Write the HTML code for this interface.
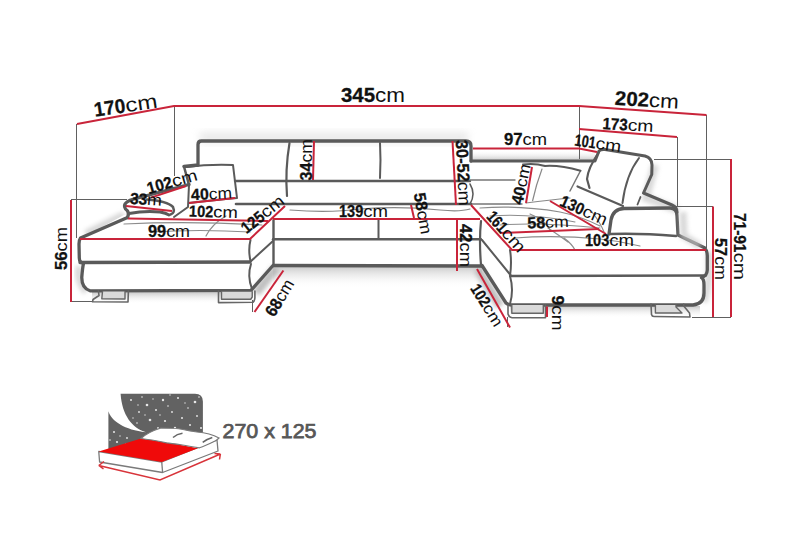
<!DOCTYPE html>
<html><head><meta charset="utf-8"><style>
html,body{margin:0;padding:0;background:#fff;width:800px;height:533px;overflow:hidden;}
svg{display:block;font-family:"Liberation Sans", sans-serif;}
</style></head><body>
<svg width="800" height="533" viewBox="0 0 800 533" font-family="Liberation Sans, sans-serif">
<defs>
 <filter id="blur4" x="-50%" y="-50%" width="200%" height="200%"><feGaussianBlur stdDeviation="4"/></filter>
 <filter id="blur2" x="-50%" y="-50%" width="200%" height="200%"><feGaussianBlur stdDeviation="2"/></filter>
 <linearGradient id="shc" x1="0" y1="0" x2="0" y2="1">
  <stop offset="0" stop-color="#9a9a9a" stop-opacity="0.55"/>
  <stop offset="1" stop-color="#ffffff" stop-opacity="0"/>
 </linearGradient>
 <linearGradient id="shc2" x1="0" y1="0" x2="0" y2="1">
  <stop offset="0" stop-color="#ffffff" stop-opacity="0"/>
  <stop offset="1" stop-color="#a8a8a8" stop-opacity="0.7"/>
 </linearGradient>
</defs>

<rect x="273" y="266" width="209" height="22" fill="url(#shc)"/>
<path d="M276,268 L256,293" stroke="#b0b0b0" stroke-width="9" opacity="0.8" filter="url(#blur2)"/>
<path d="M478,269 L500,306" stroke="#b0b0b0" stroke-width="9" opacity="0.8" filter="url(#blur2)"/>
<rect x="92" y="292" width="160" height="12" fill="url(#shc)"/>
<rect x="510" y="306" width="190" height="12" fill="url(#shc)"/>
<path d="M79,266 Q76,280 86,292" stroke="#c0c0c0" stroke-width="7" fill="none" opacity="0.6" filter="url(#blur2)"/>
<path d="M709,252 Q711,280 704,302" stroke="#c0c0c0" stroke-width="7" fill="none" opacity="0.6" filter="url(#blur2)"/>
<rect x="200" y="133" width="268" height="9" fill="#d5d5d5" opacity="0.6" filter="url(#blur4)"/>
<rect x="471" y="150" width="124" height="11" fill="url(#shc2)"/>
<path d="M193,143 L193,163" stroke="#cfcfcf" stroke-width="8" opacity="0.6" filter="url(#blur4)"/>
<path d="M86,234 L124,215" stroke="#c0c0c0" stroke-width="8" opacity="0.6" filter="url(#blur2)"/>
<path d="M655,165 L646,198 L678,210" stroke="#c0c0c0" stroke-width="8" fill="none" opacity="0.6" filter="url(#blur2)"/>
<line x1="76.5" y1="124" x2="76.5" y2="238" stroke="#606060" stroke-width="1"/>
<line x1="174.5" y1="106" x2="174.5" y2="176" stroke="#606060" stroke-width="1"/>
<line x1="579.5" y1="106" x2="579.5" y2="159" stroke="#606060" stroke-width="1"/>
<line x1="706.5" y1="115" x2="706.5" y2="248" stroke="#606060" stroke-width="1"/>
<line x1="677.5" y1="137" x2="677.5" y2="206" stroke="#606060" stroke-width="1"/>
<line x1="654" y1="159.5" x2="731" y2="159.5" stroke="#606060" stroke-width="1"/>
<line x1="676" y1="206.5" x2="713" y2="206.5" stroke="#606060" stroke-width="1"/>
<line x1="71" y1="199.5" x2="127" y2="199.5" stroke="#606060" stroke-width="1"/>
<line x1="71" y1="301.5" x2="92" y2="301.5" stroke="#606060" stroke-width="1"/>
<line x1="692" y1="317.5" x2="731" y2="317.5" stroke="#606060" stroke-width="1"/>
<line x1="252.5" y1="300" x2="252.5" y2="312" stroke="#606060" stroke-width="1"/>
<line x1="507.5" y1="317" x2="507.5" y2="327" stroke="#606060" stroke-width="1"/>
<path d="M80,239 L124,215 L150,214 L250,239 L250,262 L250,290 L90,291 Q82,289 81,278 Q80,270 82,266 Q80,263 80,260 Z" fill="#fff" stroke="none" stroke-width="0" stroke-linejoin="round" stroke-linecap="round" />
<path d="M127.5,217.5 L80.5,238 Q79,240 79,244 L79.3,258 Q79.3,262.5 83.5,263.4 Q82.5,268 81.8,277 Q81.5,288 90,290.8 L251,290.3 L273,265.5" fill="none" stroke="#5a5a5a" stroke-width="3.3" stroke-linejoin="round" stroke-linecap="round" />
<path d="M80,262.5 L250,262" fill="none" stroke="#5a5a5a" stroke-width="3.3" stroke-linejoin="round" stroke-linecap="round" />
<path d="M250.5,240 Q248,250 250.5,261" fill="none" stroke="#5a5a5a" stroke-width="2" stroke-linejoin="round" stroke-linecap="round" />
<path d="M251,264 Q247,276 252,289" fill="none" stroke="#5a5a5a" stroke-width="2" stroke-linejoin="round" stroke-linecap="round" />
<path d="M250,262 L273,241" fill="none" stroke="#5a5a5a" stroke-width="2" stroke-linejoin="round" stroke-linecap="round" />
<path d="M127.5,217.5 Q130,212 125.5,209 Q123,205 127,202 Q129.5,200 134,199 L189,184.5" fill="none" stroke="#5a5a5a" stroke-width="3.3" stroke-linejoin="round" stroke-linecap="round" />
<path d="M147,199.5 Q167,201 173,207 Q175.5,213 170.5,214.5" fill="none" stroke="#5a5a5a" stroke-width="2.5" stroke-linejoin="round" stroke-linecap="round" />
<path d="M129,213.5 Q145,210.5 160,212 Q166,213 169,215" fill="none" stroke="#5a5a5a" stroke-width="2.8" stroke-linejoin="round" stroke-linecap="round" />
<path d="M189,185 L188,207 L174,217" fill="none" stroke="#5a5a5a" stroke-width="2" stroke-linejoin="round" stroke-linecap="round" />
<path d="M184,166.5 L198,165 L198,144.5 Q198,141 201.5,141 L466,141 Q471,141 471,146 L471,161" fill="none" stroke="#5a5a5a" stroke-width="3.3" stroke-linejoin="round" stroke-linecap="round" />
<path d="M184,166.5 L189,185" fill="none" stroke="#5a5a5a" stroke-width="2.5" stroke-linejoin="round" stroke-linecap="round" />
<path d="M235,181 L470,181" fill="none" stroke="#5a5a5a" stroke-width="2.4" stroke-linejoin="round" stroke-linecap="round" />
<path d="M289.5,143 Q285,170 287,196" fill="none" stroke="#5a5a5a" stroke-width="2.2" stroke-linejoin="round" stroke-linecap="round" />
<path d="M380,143 Q381,160 380,178" fill="none" stroke="#5a5a5a" stroke-width="2" stroke-linejoin="round" stroke-linecap="round" />
<path d="M470,184 Q476,194 470,204" fill="none" stroke="#5a5a5a" stroke-width="1.5" stroke-linejoin="round" stroke-linecap="round" />
<path d="M470,180 L515,180" fill="none" stroke="#777" stroke-width="1.4" stroke-linejoin="round" stroke-linecap="round" />
<path d="M470,204 L522,204" fill="none" stroke="#777" stroke-width="1.4" stroke-linejoin="round" stroke-linecap="round" />
<path d="M236,204 L471,204" fill="none" stroke="#5a5a5a" stroke-width="2.6" stroke-linejoin="round" stroke-linecap="round" />
<path d="M273.5,220 L273.5,265.5" fill="none" stroke="#5a5a5a" stroke-width="2.4" stroke-linejoin="round" stroke-linecap="round" />
<path d="M273.5,265.5 L482,266" fill="none" stroke="#5a5a5a" stroke-width="3.3" stroke-linejoin="round" stroke-linecap="round" />
<path d="M273,239.3 L481,239.3" fill="none" stroke="#5a5a5a" stroke-width="2.4" stroke-linejoin="round" stroke-linecap="round" />
<path d="M378.5,219 L378.5,239" fill="none" stroke="#5a5a5a" stroke-width="2" stroke-linejoin="round" stroke-linecap="round" />
<path d="M290,210 Q330,213 360,209 Q400,206 440,210 Q460,212 470,209" fill="none" stroke="#888" stroke-width="1.2" stroke-linejoin="round" stroke-linecap="round" />
<path d="M481,221 Q479,240 481,265" fill="none" stroke="#5a5a5a" stroke-width="2.2" stroke-linejoin="round" stroke-linecap="round" />
<path d="M482,240 L510.5,275" fill="none" stroke="#5a5a5a" stroke-width="2" stroke-linejoin="round" stroke-linecap="round" />
<path d="M482,265.5 L506,303 Q508,305 512,305 L693,305 Q704,304 704,293 L704,285 Q704,279 701.5,277.5 Q707,276 707.3,270 L707.3,256 Q707,250 705,249" fill="none" stroke="#5a5a5a" stroke-width="3.3" stroke-linejoin="round" stroke-linecap="round" />
<path d="M510,276 L706,275.5" fill="none" stroke="#5a5a5a" stroke-width="2.3" stroke-linejoin="round" stroke-linecap="round" />
<path d="M510,250 Q512,262 510,276 Q514,290 510,304" fill="none" stroke="#5a5a5a" stroke-width="2" stroke-linejoin="round" stroke-linecap="round" />
<path d="M609,234 L611,220 Q613,209 624,208.5 L670,208 Q677,208 677,216 L678,235 L705,248" fill="none" stroke="#5a5a5a" stroke-width="3.3" stroke-linejoin="round" stroke-linecap="round" />
<path d="M610,234 Q640,233 676,236" fill="none" stroke="#5a5a5a" stroke-width="2.6" stroke-linejoin="round" stroke-linecap="round" />
<path d="M683,212 L684,236 L700,246" stroke="#c8c8c8" stroke-width="7" fill="none" opacity="0.7" filter="url(#blur2)"/>
<path d="M471,161 L595,161 L599,151 Q601,149 605,149.5 L645,156 Q652,158 652,165 L651.75,174.5 L643.5,193 L672,205 Q677,207 677,212" fill="none" stroke="#5a5a5a" stroke-width="3" stroke-linejoin="round" stroke-linecap="round" />
<path d="M599,152 Q588,168 587,179 L589.5,188" fill="none" stroke="#5a5a5a" stroke-width="2.2" stroke-linejoin="round" stroke-linecap="round" />
<path d="M577.5,186.5 L623,206" fill="none" stroke="#5a5a5a" stroke-width="2.2" stroke-linejoin="round" stroke-linecap="round" />
<path d="M639,158 Q626,175 622.5,203" fill="none" stroke="#5a5a5a" stroke-width="2" stroke-linejoin="round" stroke-linecap="round" />
<path d="M640.5,197 L637.5,204.5" fill="none" stroke="#5a5a5a" stroke-width="1.8" stroke-linejoin="round" stroke-linecap="round" />
<path d="M580.5,170.75 L570,191" fill="none" stroke="#777" stroke-width="1.5" stroke-linejoin="round" stroke-linecap="round" />
<path d="M186,167 Q210,164 233,165 L237,198 Q215,200 189,203" fill="none" stroke="#5a5a5a" stroke-width="2" stroke-linejoin="round" stroke-linecap="round" />
<path d="M523,164.5 Q535,163 545,166 Q560,165 580.5,170.75" fill="none" stroke="#5a5a5a" stroke-width="2" stroke-linejoin="round" stroke-linecap="round" />
<path d="M542,169 Q536,185 532.6,200.75" fill="none" stroke="#888" stroke-width="1.2" stroke-linejoin="round" stroke-linecap="round" />
<path d="M526,203 Q550,200 570,198" fill="none" stroke="#888" stroke-width="1.2" stroke-linejoin="round" stroke-linecap="round" />
<path d="M102.5,291.5 L101.8,298.7 L125,299 L125,291.5 Z" fill="#dadada"/>
<path d="M98.4,291 L99,295.5 L93,299.5 L92.6,301.8 L128,302 L128.4,291" fill="none" stroke="#666" stroke-width="1.6" stroke-linejoin="round" stroke-linecap="round" />
<path d="M102.5,291.5 L101.8,298.7 L125,299 L125,291.5" fill="none" stroke="#666" stroke-width="1.4" stroke-linejoin="round" stroke-linecap="round" />
<path d="M221.5,291.7 L221.5,299.25 L250.75,299.25 L252.25,297 L252.25,291.7 Z" fill="#dadada"/>
<path d="M218.5,291 L218.5,302.6 L253,302.3 Q254.9,300.5 254.9,298 L254.9,291" fill="none" stroke="#666" stroke-width="1.6" stroke-linejoin="round" stroke-linecap="round" />
<path d="M221.5,291.7 L221.5,299.25 L250.75,299.25 L252.25,297 L252.25,291.7" fill="none" stroke="#666" stroke-width="1.4" stroke-linejoin="round" stroke-linecap="round" />
<path d="M511.8,305 L511.8,313.3 L543.3,313.3 L543.3,305 Z" fill="#dadada"/>
<path d="M508,305 L508,314 Q509,317.5 512,317.8 L545.5,317.8 L545.5,305" fill="none" stroke="#666" stroke-width="1.6" stroke-linejoin="round" stroke-linecap="round" />
<path d="M511.8,305 L511.8,313.3 L543.3,313.3 L543.3,305" fill="none" stroke="#666" stroke-width="1.4" stroke-linejoin="round" stroke-linecap="round" />
<path d="M655.4,305 L655.4,313 L682,313 L676,307 L676,305 Z" fill="#dadada"/>
<path d="M651,304 L651.5,314.5 Q652,316.5 654,316.5 L690,317 L689.5,313 L683.75,306 L683.75,304" fill="none" stroke="#666" stroke-width="1.6" stroke-linejoin="round" stroke-linecap="round" />
<path d="M655.4,305 L655.4,313 L682,313 L676,307 L676,305" fill="none" stroke="#666" stroke-width="1.4" stroke-linejoin="round" stroke-linecap="round" />
<path d="M124,224 Q190,221 262,225" fill="none" stroke="#8c8c8c" stroke-width="1.2" stroke-linejoin="round" stroke-linecap="round" />
<path d="M206,236 Q212,224 226,216" fill="none" stroke="#8c8c8c" stroke-width="1.2" stroke-linejoin="round" stroke-linecap="round" />
<path d="M150,232 Q200,229 250,232" fill="none" stroke="#8c8c8c" stroke-width="1.2" stroke-linejoin="round" stroke-linecap="round" />
<path d="M480,208 Q520,205 560,212 Q580,216 600,226" fill="none" stroke="#8c8c8c" stroke-width="1.2" stroke-linejoin="round" stroke-linecap="round" />
<path d="M490,216 Q530,213 575,222" fill="none" stroke="#8c8c8c" stroke-width="1.2" stroke-linejoin="round" stroke-linecap="round" />
<path d="M500,225 Q540,222 600,228" fill="none" stroke="#8c8c8c" stroke-width="1.2" stroke-linejoin="round" stroke-linecap="round" />
<path d="M515,238 Q555,235 600,239 Q620,241 640,246" fill="none" stroke="#8c8c8c" stroke-width="1.2" stroke-linejoin="round" stroke-linecap="round" />
<path d="M548,228 Q560,236 568,242" fill="none" stroke="#8c8c8c" stroke-width="1.2" stroke-linejoin="round" stroke-linecap="round" />
<path d="M564,238 Q572,244 575,250" fill="none" stroke="#8c8c8c" stroke-width="1.2" stroke-linejoin="round" stroke-linecap="round" />
<path d="M592,212 Q600,222 604,232" fill="none" stroke="#8c8c8c" stroke-width="1.2" stroke-linejoin="round" stroke-linecap="round" />
<path d="M530,214 Q545,220 550,230" fill="none" stroke="#8c8c8c" stroke-width="1.2" stroke-linejoin="round" stroke-linecap="round" />
<path d="M77,124 L174,106 L579,106 L706.5,115" fill="none" stroke="#c9243a" stroke-width="2" stroke-linejoin="miter"/>
<path d="M579,129 L677,137" fill="none" stroke="#c9243a" stroke-width="2" stroke-linejoin="miter"/>
<path d="M473,148.5 L579,148.5 L597,152" fill="none" stroke="#c9243a" stroke-width="2" stroke-linejoin="miter"/>
<path d="M314,141 L313,180" fill="none" stroke="#c9243a" stroke-width="2" stroke-linejoin="miter"/>
<path d="M452.5,141 L456,205" fill="none" stroke="#c9243a" stroke-width="2" stroke-linejoin="miter"/>
<path d="M151,197.6 L186,186" fill="none" stroke="#c9243a" stroke-width="2" stroke-linejoin="miter"/>
<path d="M126,206 L172,211" fill="none" stroke="#c9243a" stroke-width="2" stroke-linejoin="miter"/>
<path d="M189,203 L235,198" fill="none" stroke="#c9243a" stroke-width="2" stroke-linejoin="miter"/>
<path d="M128,218.6 L268,221" fill="none" stroke="#c9243a" stroke-width="2" stroke-linejoin="miter"/>
<path d="M273,219 L480,219" fill="none" stroke="#c9243a" stroke-width="2" stroke-linejoin="miter"/>
<path d="M80,239 L250,239 L285,206" fill="none" stroke="#c9243a" stroke-width="2" stroke-linejoin="miter"/>
<path d="M411,205 L414,218" fill="none" stroke="#c9243a" stroke-width="2" stroke-linejoin="miter"/>
<path d="M457,218 L457,271" fill="none" stroke="#c9243a" stroke-width="2" stroke-linejoin="miter"/>
<path d="M471,205 L512,250 L706,250" fill="none" stroke="#c9243a" stroke-width="2" stroke-linejoin="miter"/>
<path d="M500,233 L599,229" fill="none" stroke="#c9243a" stroke-width="2" stroke-linejoin="miter"/>
<path d="M550,201 L606,234" fill="none" stroke="#c9243a" stroke-width="2" stroke-linejoin="miter"/>
<path d="M532,167 L526,203" fill="none" stroke="#c9243a" stroke-width="2" stroke-linejoin="miter"/>
<path d="M731,159 L731,317" fill="none" stroke="#c9243a" stroke-width="2" stroke-linejoin="miter"/>
<path d="M713,206.5 L713,317" fill="none" stroke="#c9243a" stroke-width="2" stroke-linejoin="miter"/>
<path d="M71,200 L71,302" fill="none" stroke="#c9243a" stroke-width="2" stroke-linejoin="miter"/>
<path d="M283.4,270.5 L254.5,312" fill="none" stroke="#c9243a" stroke-width="2" stroke-linejoin="miter"/>
<path d="M477,269 L510,327.5" fill="none" stroke="#c9243a" stroke-width="2" stroke-linejoin="miter"/>
<path d="M547,306.5 L547,317" fill="none" stroke="#c9243a" stroke-width="2" stroke-linejoin="miter"/>
<g transform="translate(125.5,105) rotate(-8.5)" fill="#111"><text x="-16.17" y="7.20" text-anchor="middle" font-size="20" font-weight="bold" stroke="#111" stroke-width="0.3" textLength="31.67" lengthAdjust="spacingAndGlyphs">170</text><text x="15.83" y="7.20" text-anchor="middle" font-size="20" textLength="32.33" lengthAdjust="spacingAndGlyphs">cm</text></g>
<g transform="translate(373,95) rotate(0)" fill="#111"><text x="-14.97" y="7.20" text-anchor="middle" font-size="20" font-weight="bold" stroke="#111" stroke-width="0.3" textLength="34.06" lengthAdjust="spacingAndGlyphs">345</text><text x="17.03" y="7.20" text-anchor="middle" font-size="20" textLength="29.94" lengthAdjust="spacingAndGlyphs">cm</text></g>
<g transform="translate(647,99.5) rotate(3.5)" fill="#111"><text x="-14.97" y="7.20" text-anchor="middle" font-size="20" font-weight="bold" stroke="#111" stroke-width="0.3" textLength="34.06" lengthAdjust="spacingAndGlyphs">202</text><text x="17.03" y="7.20" text-anchor="middle" font-size="20" textLength="29.94" lengthAdjust="spacingAndGlyphs">cm</text></g>
<g transform="translate(628,124.5) rotate(3.5)" fill="#111"><text x="-12.88" y="5.94" text-anchor="middle" font-size="16.5" font-weight="bold" stroke="#111" stroke-width="0.3" textLength="25.23" lengthAdjust="spacingAndGlyphs">173</text><text x="12.62" y="5.94" text-anchor="middle" font-size="16.5" textLength="25.77" lengthAdjust="spacingAndGlyphs">cm</text></g>
<g transform="translate(525.5,139) rotate(0)" fill="#111"><text x="-12.23" y="5.76" text-anchor="middle" font-size="16" font-weight="bold" stroke="#111" stroke-width="0.3" textLength="18.55" lengthAdjust="spacingAndGlyphs">97</text><text x="9.27" y="5.76" text-anchor="middle" font-size="16" textLength="24.45" lengthAdjust="spacingAndGlyphs">cm</text></g>
<g transform="translate(598,143) rotate(8)" fill="#111"><text x="-12.91" y="5.94" text-anchor="middle" font-size="16.5" font-weight="bold" stroke="#111" stroke-width="0.3" textLength="21.19" lengthAdjust="spacingAndGlyphs">101</text><text x="10.59" y="5.94" text-anchor="middle" font-size="16.5" textLength="25.81" lengthAdjust="spacingAndGlyphs">cm</text></g>
<g transform="translate(305.5,159.7) rotate(-90)" fill="#111"><text x="-11.80" y="6.12" text-anchor="middle" font-size="17" font-weight="bold" stroke="#111" stroke-width="0.3" textLength="17.90" lengthAdjust="spacingAndGlyphs">34</text><text x="8.95" y="6.12" text-anchor="middle" font-size="17" textLength="23.60" lengthAdjust="spacingAndGlyphs">cm</text></g>
<g transform="translate(463.5,172.8) rotate(87)" fill="#111"><text x="-12.02" y="6.12" text-anchor="middle" font-size="17" font-weight="bold" stroke="#111" stroke-width="0.3" textLength="41.95" lengthAdjust="spacingAndGlyphs">30-52</text><text x="20.98" y="6.12" text-anchor="middle" font-size="17" textLength="24.05" lengthAdjust="spacingAndGlyphs">cm</text></g>
<g transform="translate(172,181.3) rotate(-16)" fill="#111"><text x="-13.14" y="5.94" text-anchor="middle" font-size="16.5" font-weight="bold" stroke="#111" stroke-width="0.3" textLength="25.73" lengthAdjust="spacingAndGlyphs">102</text><text x="12.86" y="5.94" text-anchor="middle" font-size="16.5" textLength="26.27" lengthAdjust="spacingAndGlyphs">cm</text></g>
<g transform="translate(146,199) rotate(4)" fill="#111"><text x="-7.41" y="5.76" text-anchor="middle" font-size="16" font-weight="bold" stroke="#111" stroke-width="0.3" textLength="17.17" lengthAdjust="spacingAndGlyphs">33</text><text x="8.59" y="5.76" text-anchor="middle" font-size="16" textLength="14.83" lengthAdjust="spacingAndGlyphs">m</text></g>
<g transform="translate(211.5,193.5) rotate(-3)" fill="#111"><text x="-11.66" y="5.76" text-anchor="middle" font-size="16" font-weight="bold" stroke="#111" stroke-width="0.3" textLength="17.69" lengthAdjust="spacingAndGlyphs">40</text><text x="8.84" y="5.76" text-anchor="middle" font-size="16" textLength="23.31" lengthAdjust="spacingAndGlyphs">cm</text></g>
<g transform="translate(213.5,211.5) rotate(2)" fill="#111"><text x="-12.38" y="5.76" text-anchor="middle" font-size="16" font-weight="bold" stroke="#111" stroke-width="0.3" textLength="24.24" lengthAdjust="spacingAndGlyphs">102</text><text x="12.12" y="5.76" text-anchor="middle" font-size="16" textLength="24.76" lengthAdjust="spacingAndGlyphs">cm</text></g>
<g transform="translate(169,231) rotate(0)" fill="#111"><text x="-11.94" y="5.76" text-anchor="middle" font-size="16" font-weight="bold" stroke="#111" stroke-width="0.3" textLength="18.12" lengthAdjust="spacingAndGlyphs">99</text><text x="9.06" y="5.76" text-anchor="middle" font-size="16" textLength="23.88" lengthAdjust="spacingAndGlyphs">cm</text></g>
<g transform="translate(262.3,214) rotate(-39)" fill="#111"><text x="-12.63" y="5.94" text-anchor="middle" font-size="16.5" font-weight="bold" stroke="#111" stroke-width="0.3" textLength="24.74" lengthAdjust="spacingAndGlyphs">125</text><text x="12.37" y="5.94" text-anchor="middle" font-size="16.5" textLength="25.26" lengthAdjust="spacingAndGlyphs">cm</text></g>
<g transform="translate(363.5,211) rotate(0)" fill="#111"><text x="-12.38" y="5.94" text-anchor="middle" font-size="16.5" font-weight="bold" stroke="#111" stroke-width="0.3" textLength="24.24" lengthAdjust="spacingAndGlyphs">139</text><text x="12.12" y="5.94" text-anchor="middle" font-size="16.5" textLength="24.76" lengthAdjust="spacingAndGlyphs">cm</text></g>
<g transform="translate(423.2,213.3) rotate(80)" fill="#111"><text x="-11.94" y="5.94" text-anchor="middle" font-size="16.5" font-weight="bold" stroke="#111" stroke-width="0.3" textLength="18.12" lengthAdjust="spacingAndGlyphs">58</text><text x="9.06" y="5.94" text-anchor="middle" font-size="16.5" textLength="23.88" lengthAdjust="spacingAndGlyphs">cm</text></g>
<g transform="translate(466,245.5) rotate(90)" fill="#111"><text x="-12.23" y="5.94" text-anchor="middle" font-size="16.5" font-weight="bold" stroke="#111" stroke-width="0.3" textLength="18.55" lengthAdjust="spacingAndGlyphs">42</text><text x="9.27" y="5.94" text-anchor="middle" font-size="16.5" textLength="24.45" lengthAdjust="spacingAndGlyphs">cm</text></g>
<g transform="translate(506.5,231.5) rotate(48)" fill="#111"><text x="-13.46" y="5.94" text-anchor="middle" font-size="16.5" font-weight="bold" stroke="#111" stroke-width="0.3" textLength="22.09" lengthAdjust="spacingAndGlyphs">161</text><text x="11.04" y="5.94" text-anchor="middle" font-size="16.5" textLength="26.91" lengthAdjust="spacingAndGlyphs">cm</text></g>
<g transform="translate(548,222) rotate(-2)" fill="#111"><text x="-11.80" y="5.76" text-anchor="middle" font-size="16" font-weight="bold" stroke="#111" stroke-width="0.3" textLength="17.90" lengthAdjust="spacingAndGlyphs">58</text><text x="8.95" y="5.76" text-anchor="middle" font-size="16" textLength="23.60" lengthAdjust="spacingAndGlyphs">cm</text></g>
<g transform="translate(584,210) rotate(24)" fill="#111"><text x="-12.63" y="5.94" text-anchor="middle" font-size="16.5" font-weight="bold" stroke="#111" stroke-width="0.3" textLength="24.74" lengthAdjust="spacingAndGlyphs">130</text><text x="12.37" y="5.94" text-anchor="middle" font-size="16.5" textLength="25.26" lengthAdjust="spacingAndGlyphs">cm</text></g>
<g transform="translate(520.8,184) rotate(-78)" fill="#111"><text x="-11.66" y="5.94" text-anchor="middle" font-size="16.5" font-weight="bold" stroke="#111" stroke-width="0.3" textLength="17.69" lengthAdjust="spacingAndGlyphs">40</text><text x="8.84" y="5.94" text-anchor="middle" font-size="16.5" textLength="23.31" lengthAdjust="spacingAndGlyphs">cm</text></g>
<g transform="translate(609.5,240) rotate(0)" fill="#111"><text x="-12.38" y="5.94" text-anchor="middle" font-size="16.5" font-weight="bold" stroke="#111" stroke-width="0.3" textLength="24.24" lengthAdjust="spacingAndGlyphs">103</text><text x="12.12" y="5.94" text-anchor="middle" font-size="16.5" textLength="24.76" lengthAdjust="spacingAndGlyphs">cm</text></g>
<g transform="translate(740,246.5) rotate(90)" fill="#111"><text x="-13.80" y="5.94" text-anchor="middle" font-size="16.5" font-weight="bold" stroke="#111" stroke-width="0.3" textLength="39.40" lengthAdjust="spacingAndGlyphs">71-91</text><text x="19.70" y="5.94" text-anchor="middle" font-size="16.5" textLength="27.60" lengthAdjust="spacingAndGlyphs">cm</text></g>
<g transform="translate(720.5,259) rotate(90)" fill="#111"><text x="-11.94" y="5.94" text-anchor="middle" font-size="16.5" font-weight="bold" stroke="#111" stroke-width="0.3" textLength="18.12" lengthAdjust="spacingAndGlyphs">57</text><text x="9.06" y="5.94" text-anchor="middle" font-size="16.5" textLength="23.88" lengthAdjust="spacingAndGlyphs">cm</text></g>
<g transform="translate(61.5,248.5) rotate(-90)" fill="#111"><text x="-12.23" y="5.94" text-anchor="middle" font-size="16.5" font-weight="bold" stroke="#111" stroke-width="0.3" textLength="18.55" lengthAdjust="spacingAndGlyphs">56</text><text x="9.27" y="5.94" text-anchor="middle" font-size="16.5" textLength="24.45" lengthAdjust="spacingAndGlyphs">cm</text></g>
<g transform="translate(279.3,297.5) rotate(-59)" fill="#111"><text x="-11.37" y="6.12" text-anchor="middle" font-size="17" font-weight="bold" stroke="#111" stroke-width="0.3" textLength="17.25" lengthAdjust="spacingAndGlyphs">68</text><text x="8.63" y="6.12" text-anchor="middle" font-size="17" textLength="22.75" lengthAdjust="spacingAndGlyphs">cm</text></g>
<g transform="translate(487,305) rotate(58)" fill="#111"><text x="-11.87" y="5.76" text-anchor="middle" font-size="16" font-weight="bold" stroke="#111" stroke-width="0.3" textLength="23.25" lengthAdjust="spacingAndGlyphs">102</text><text x="11.63" y="5.76" text-anchor="middle" font-size="16" textLength="23.75" lengthAdjust="spacingAndGlyphs">cm</text></g>
<g transform="translate(557.5,313) rotate(90)" fill="#111"><text x="-12.69" y="5.94" text-anchor="middle" font-size="16.5" font-weight="bold" stroke="#111" stroke-width="0.3" textLength="9.62" lengthAdjust="spacingAndGlyphs">9</text><text x="4.81" y="5.94" text-anchor="middle" font-size="16.5" textLength="25.38" lengthAdjust="spacingAndGlyphs">cm</text></g>

<g>
 <path d="M120.6,393.75 L195,393.75 Q202.9,393.75 202.9,401.6 L202.9,442 L108.4,452 L108.4,411.25 C111,421 125,430 146,432.25 C132,428 122,415 120.6,393.75 Z" fill="#626262"/>
 <g fill="#ffffff" opacity="0.85"><circle cx="131" cy="400" r="1.0"/><circle cx="142" cy="397" r="0.8"/><circle cx="163" cy="400" r="1.2"/><circle cx="147" cy="405" r="1.3"/><circle cx="178" cy="398" r="1.0"/><circle cx="195" cy="402" r="1.3"/><circle cx="156" cy="410" r="1.0"/><circle cx="139" cy="412" r="0.9"/><circle cx="172" cy="412" r="0.9"/><circle cx="188" cy="408" r="0.8"/><circle cx="150" cy="420" r="1.3"/><circle cx="165" cy="421" r="1.1"/><circle cx="182" cy="418" r="1.0"/><circle cx="197" cy="416" r="0.9"/><circle cx="158" cy="428" r="0.9"/><circle cx="175" cy="428" r="1.2"/><circle cx="190" cy="425" r="1.0"/><circle cx="114" cy="432" r="1.0"/><circle cx="117" cy="442" r="1.1"/><circle cx="127" cy="438" r="0.9"/><circle cx="126" cy="444" r="0.8"/><circle cx="137" cy="423" r="0.8"/><circle cx="201" cy="428" r="1.0"/><circle cx="153" cy="399" r="0.7"/><circle cx="185" cy="403" r="0.7"/><circle cx="168" cy="406" r="0.8"/><circle cx="133" cy="418" r="0.7"/><circle cx="145" cy="415" r="0.7"/><circle cx="160" cy="415" r="0.7"/><circle cx="193" cy="432" r="0.8"/><circle cx="120" cy="436" r="0.7"/><circle cx="110" cy="440" r="0.8"/><circle cx="180" cy="435" r="0.7"/><circle cx="199" cy="397" r="0.8"/><circle cx="170" cy="395" r="0.7"/><circle cx="138" cy="405" r="0.7"/></g>
 <path d="M98.75,451.5 L161.75,462 L217,440 L218,451 L162.6,472.5 L99.6,462 Z" fill="#fff" stroke="#7a7a7a" stroke-width="1.3" stroke-linejoin="round"/>
 <path d="M161.75,462 L162.6,472.5" stroke="#7a7a7a" stroke-width="1.3"/>
 <path d="M98.75,451.5 L141,438.5 Q150,439.5 166.6,442.8 Q182,445 198,448.3 L161.75,462 Z" fill="#f00a0a"/>
 <path d="M141,438.5 Q148,432 161,428 Q175,428 183,429.5 Q190,431 197,432 Q210,433 219,438 Q216,441 214,441.5 Q205,446 199.5,447.8 Q188,446 182.5,445 Q170,443 166.6,442.8 Q150,439.5 141,438.5 Z" fill="#fff" stroke="#7a7a7a" stroke-width="1.2"/>
 <path d="M173,437.5 Q177,434 182.5,433.3 M202.7,442.3 Q207,439 212.3,437.5" fill="none" stroke="#666" stroke-width="1.5"/>
 <path d="M98.75,465.5 L160,480 L220.4,454 M98.75,465.5 L104,461.5 M98.75,465.5 L103.5,469 M220.4,454 L214.5,453.5 M220.4,454 L219.5,459.5" fill="none" stroke="#d8343a" stroke-width="1.5"/>
</g>

<text x="269.5" y="438.2" text-anchor="middle" font-size="20" fill="#575757" stroke="#575757" stroke-width="0.75" textLength="94" lengthAdjust="spacingAndGlyphs">270 x 125</text></svg>
</body></html>
